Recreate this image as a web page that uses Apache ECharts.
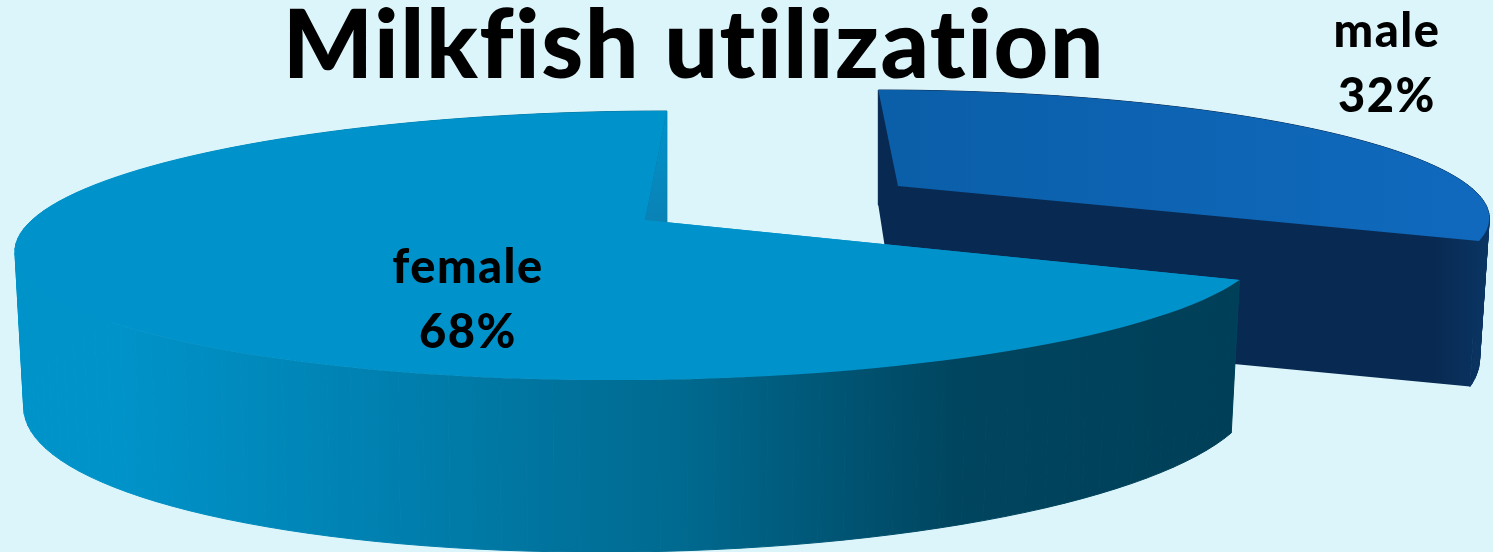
<!DOCTYPE html>
<html>
<head>
<meta charset="utf-8">
<style>
  html, body { margin: 0; padding: 0; background: #dcf5fa; }
  #chart { width: 1493px; height: 552px; }
</style>
<script src="https://cdn.jsdelivr.net/npm/echarts@6/dist/echarts.min.js"></script>
</head>
<body>
<div id="chart"></div>
<script>
// Share of milkfish utilization, in percent. Male is drawn first so the female
// slice sits in front of it.
const categories = ['male', 'female'];
const shares = [32, 68];
const chartTitle = 'Milkfish utilization';

// Perspective settings for each slice: apex position, radii, depth foreshortening,
// shear and the wall height terms.
const sliceViews = {
  male: {
    cx: 898, cy: 186, rx: 571, rxLeft: 571, ry: 117, depth: 0.219, shear: 24,
    h0: 146, hy: 31, hx: -15, lean: 10,
    top: ['#0b5fa9', '#1069bd'],
    wall: ['#082a52', '#082a52', '#0a3564'],
    wallSpan: [1380, 1490],
    inner: null,
    labelAt: [1387, 64.5]
  },
  female: {
    cx: 645, cy: 220, rx: 616, rxLeft: 613, ry: 129.7, depth: 0.19, shear: -26,
    h0: 145, hy: 27, hx: -4, lean: 9,
    top: ['#0093cb', '#0093cb'],
    wall: ['#0093c9', '#007fae', '#006a90', '#00455f', '#003f58'],
    wallSpan: [120, 1235],
    inner: ['#0093cb', '#0a82b6'],
    labelAt: [468, 300]
  }
};

const toRad = Math.PI / 180;

// Open the lettering up slightly; tracked text also keeps its letters unjoined.
const plainGetContext = HTMLCanvasElement.prototype.getContext;
HTMLCanvasElement.prototype.getContext = function (kind, options) {
  const ctx = plainGetContext.call(this, kind, options);
  if (kind === '2d' && ctx) {
    ctx.letterSpacing = '1.5px';
  }
  return ctx;
};

function gradient(x0, y0, x1, y1, stops) {
  const n = stops.length - 1;
  return new echarts.graphic.LinearGradient(x0, y0, x1, y1,
    stops.map((color, i) => ({ offset: i / n, color })), true);
}

// Top-surface point at a given angle and radial fraction.
function topPoint(v, angle, r) {
  const X = r * Math.cos(angle * toRad);
  const Y = r * Math.sin(angle * toRad);
  const w = 1 - v.depth * Y;
  const rx = X < 0 ? v.rxLeft : v.rx;
  return { x: v.cx + (rx * X + v.shear * Y) / w, y: v.cy + v.ry * Y / w, X, Y };
}

// Matching point on the lower rim, below the top-surface point.
function basePoint(v, p) {
  return [p.x - v.lean * p.X, p.y + v.h0 + v.hy * p.Y + v.hx * p.X];
}

function renderSlice(params, api) {
  const index = params.dataIndex;
  const name = categories[index];
  const v = sliceViews[name];
  const total = shares.reduce((a, b) => a + b, 0);
  const before = shares.slice(0, index).reduce((a, b) => a + b, 0);
  const start = -90 + before / total * 360;
  const sweep = api.value(0) / total * 360;

  const rim = [];
  for (let i = 0; i <= 120; i++) {
    rim.push(topPoint(v, start + sweep * i / 120, 1));
  }
  const apex = topPoint(v, 0, 0);
  const xy = p => [p.x, p.y];
  const first = rim[0];
  const last = rim[rim.length - 1];
  const wallFill = gradient(v.wallSpan[0], 0, v.wallSpan[1], 0, v.wall);
  const cutFace = edge => ({
    type: 'polygon',
    shape: { points: [xy(edge), xy(apex), basePoint(v, apex), basePoint(v, edge)] },
    style: { fill: v.inner ? gradient(0, edge.y, 0, apex.y, v.inner) : wallFill }
  });
  // The cut along the rear edge stays visible; the other one goes behind the wall.
  const rearEdge = first.Y < last.Y ? first : last;
  const frontEdge = rearEdge === first ? last : first;
  const faces = [cutFace(frontEdge)];

  // Curved outer wall, one narrow panel at a time so it can fold round the sides.
  for (let i = 0; i < rim.length - 1; i++) {
    faces.push({
      type: 'polygon',
      shape: { points: [xy(rim[i]), xy(rim[i + 1]), basePoint(v, rim[i + 1]), basePoint(v, rim[i])] },
      style: { fill: wallFill, stroke: wallFill, lineWidth: 1 }
    });
  }
  faces.push(cutFace(rearEdge));
  // Top surface.
  faces.push({
    type: 'polygon',
    shape: { points: [xy(apex)].concat(rim.map(xy)) },
    style: { fill: gradient(v.cx, 0, v.cx + v.rx, 0, v.top) }
  });
  // Name and share.
  faces.push({
    type: 'text',
    style: {
      x: v.labelAt[0],
      y: v.labelAt[1],
      text: name + '\n' + api.value(0) + '%',
      align: 'center',
      verticalAlign: 'middle',
      font: '900 47px Lato, sans-serif',
      lineHeight: 65,
      fill: '#000000'
    }
  });
  return { type: 'group', children: faces };
}

const chart = echarts.init(document.getElementById('chart'));
chart.setOption({
  animation: false,
  backgroundColor: '#dcf5fa',
  title: {
    text: chartTitle,
    left: 689,
    top: -6,
    textAlign: 'center',
    textStyle: { fontFamily: 'Lato, sans-serif', fontWeight: 900, fontSize: 95, color: '#000000' }
  },
  series: [{
    type: 'custom',
    coordinateSystem: 'none',
    renderItem: renderSlice,
    data: shares.map(value => [value]),
    silent: true
  }]
});
</script>
</body>
</html>
